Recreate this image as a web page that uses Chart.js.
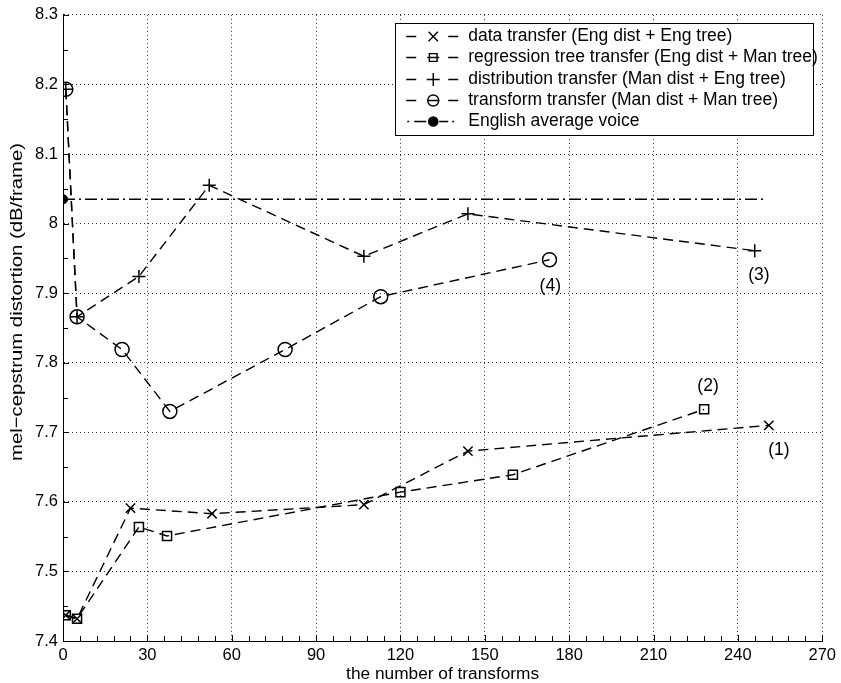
<!DOCTYPE html>
<html>
<head>
<meta charset="utf-8">
<script src="https://cdn.jsdelivr.net/npm/chart.js@4.4.0/dist/chart.umd.min.js"></script>
<style>
  html, body { margin: 0; padding: 0; background: #fff; }
  canvas { display: block; }
</style>
</head>
<body>
<canvas id="chart" width="841" height="683"></canvas>
<script>
// values
const dataX = [1, 5, 24, 53, 107, 144, 251];
const dataY = [7.437, 7.432, 7.591, 7.583, 7.596, 7.673, 7.710];

const regX = [1, 5, 27, 37, 120, 160, 228];
const regY = [7.437, 7.432, 7.564, 7.551, 7.614, 7.639, 7.733];

const distX = [1, 5, 27, 52, 107, 144, 246];
const distY = [8.193, 7.866, 7.924, 8.055, 7.953, 8.014, 7.961];

const transX = [1, 5, 21, 38, 79, 113, 173];
const transY = [8.193, 7.866, 7.819, 7.730, 7.819, 7.895, 7.948];

const avgX = [0, 250];
const avgY = [8.035, 8.035];

const seriesNames = [
  'data transfer (Eng dist + Eng tree)',
  'regression tree transfer (Eng dist + Man tree)',
  'distribution transfer (Man dist + Eng tree)',
  'transform transfer (Man dist + Man tree)',
  'English average voice'
];

const noteText = ['(1)', '(2)', '(3)', '(4)'];
const noteX = [254.6, 229.4, 247.5, 173.3];
const noteY = [7.675, 7.767, 7.926, 7.910];

const xTickLabels = [0, 30, 60, 90, 120, 150, 180, 210, 240, 270];
const yTickLabels = [7.4, 7.5, 7.6, 7.7, 7.8, 7.9, 8.0, 8.1, 8.2, 8.3];

const xTitle = 'the number of transforms';
const yTitle = 'mel\u2212cepstrum distortion (dB/frame)';

const FONT = '"Liberation Sans", Arial, Helvetica, sans-serif';
Chart.defaults.font.family = FONT;
Chart.defaults.color = '#000';

const isMajorX = v => xTickLabels.some(t => Math.abs(t - v) < 1e-6);
const isMajorY = v => yTickLabels.some(t => Math.abs(t - v) < 1e-6);

// minor ticks: 5 per major step on x, 2 per major step on y
const subdivide = (majors, n) => {
  const out = [];
  majors.forEach((m, i) => {
    out.push(m);
    if (i < majors.length - 1) {
      const step = (majors[i + 1] - m) / n;
      for (let k = 1; k < n; k++) out.push(m + k * step);
    }
  });
  return out;
};
const xTickValues = subdivide(xTickLabels, 5);
const yTickValues = subdivide(yTickLabels, 2);

const pts = (xs, ys) => xs.map((x, i) => ({ x, y: ys[i] }));

const markers = [
  { pointStyle: 'crossRot', radius: 6.6 },
  { pointStyle: 'rect', radius: 6.4 },
  { pointStyle: 'cross', radius: 6.5 },
  { pointStyle: 'circle', radius: 7 },
  { pointStyle: 'circle', radius: 4.6 }
];

const LW = 1.4;
const DASH = [10, 6];
const DASHDOT = [12, 4, 2, 4];

const lineSet = (label, xs, ys, m) => ({
  label,
  data: pts(xs, ys),
  borderColor: '#000',
  borderWidth: LW,
  borderDash: DASH,
  pointStyle: m.pointStyle,
  pointRadius: m.radius,
  pointBorderColor: '#000',
  pointBackgroundColor: 'rgba(0,0,0,0)',
  pointBorderWidth: 1.5,
  tension: 0
});

// inward tick marks on the left and bottom axes
const tickMarks = {
  id: 'tickMarks',
  afterDatasetsDraw(chart) {
    const { ctx, chartArea, scales: { x, y } } = chart;
    ctx.save();
    ctx.strokeStyle = '#000';
    ctx.lineWidth = 1;
    ctx.beginPath();
    x.ticks.forEach(t => {
      const px = Math.round(x.getPixelForValue(t.value)) + 0.5;
      ctx.moveTo(px, chartArea.bottom);
      ctx.lineTo(px, chartArea.bottom - (isMajorX(t.value) ? 6 : 5));
    });
    y.ticks.forEach(t => {
      const py = Math.round(y.getPixelForValue(t.value)) + 0.5;
      ctx.moveTo(chartArea.left, py);
      ctx.lineTo(chartArea.left + (isMajorY(t.value) ? 6 : 5), py);
    });
    ctx.stroke();
    ctx.restore();
  }
};

// (1)..(4) labels next to the curve ends
const notes = {
  id: 'notes',
  afterDatasetsDraw(chart) {
    const { ctx, scales: { x, y } } = chart;
    ctx.save();
    ctx.font = '17.5px ' + FONT;
    ctx.fillStyle = '#000';
    ctx.textAlign = 'center';
    ctx.textBaseline = 'middle';
    noteText.forEach((t, i) => {
      ctx.fillText(t, x.getPixelForValue(noteX[i]), y.getPixelForValue(noteY[i]));
    });
    ctx.restore();
  }
};

// y title: the rotated matlab text comes out stretched along its length
const yTitleDraw = {
  id: 'yTitleDraw',
  afterDraw(chart) {
    const { ctx } = chart;
    ctx.save();
    ctx.font = '17px ' + FONT;
    ctx.fillStyle = '#000';
    const w = ctx.measureText(yTitle).width;
    ctx.translate(17, 302);
    ctx.rotate(-Math.PI / 2);
    ctx.scale(318 / w, 1);
    ctx.textAlign = 'center';
    ctx.textBaseline = 'middle';
    ctx.fillText(yTitle, 0, 0);
    ctx.restore();
  }
};

// matlab style legend box, top right
const legendBox = {
  id: 'legendBox',
  afterDraw(chart) {
    const { ctx, chartArea } = chart;
    const left = chartArea.right - 427, top = chartArea.top + 8;
    const w = 418, h = 112, rowH = 21.3;
    ctx.save();
    ctx.fillStyle = '#fff';
    ctx.fillRect(left, top, w, h);
    ctx.strokeStyle = '#000';
    ctx.lineWidth = 1;
    ctx.strokeRect(Math.round(left) + 0.5, Math.round(top) + 0.5, w, h);

    ctx.font = '17.5px ' + FONT;
    ctx.textBaseline = 'middle';
    ctx.textAlign = 'left';
    seriesNames.forEach((name, i) => {
      const cy = Math.round(top + 13 + i * rowH) + 0.5;
      const mx = left + 38;
      ctx.strokeStyle = '#000';
      ctx.lineWidth = LW;
      ctx.beginPath();
      if (i < 4) {
        ctx.moveTo(left + 11, cy); ctx.lineTo(left + 21, cy);
        ctx.moveTo(left + 53, cy); ctx.lineTo(left + 63, cy);
        if (i === 1 || i === 3) { ctx.moveTo(mx - 6, cy); ctx.lineTo(mx + 6, cy); }
      } else {
        ctx.moveTo(left + 12, cy); ctx.lineTo(left + 14, cy);
        ctx.moveTo(left + 19, cy); ctx.lineTo(left + 31, cy);
        ctx.moveTo(left + 44, cy); ctx.lineTo(left + 53, cy);
        ctx.moveTo(left + 57, cy); ctx.lineTo(left + 59, cy);
      }
      ctx.stroke();
      const m = markers[i];
      ctx.fillStyle = i === 4 ? '#000' : 'rgba(0,0,0,0)';
      ctx.lineWidth = 1.4;
      Chart.helpers.drawPoint(ctx, {
        pointStyle: m.pointStyle,
        radius: (i === 1 || i === 3) ? 5.5 : m.radius,
        rotation: 0,
        borderWidth: 1.4
      }, mx, cy);
      ctx.fillStyle = '#000';
      ctx.fillText(name, left + 73, cy);
    });
    ctx.restore();
  }
};

new Chart(document.getElementById('chart'), {
  type: 'line',
  data: {
    datasets: [
      lineSet(seriesNames[0], dataX, dataY, markers[0]),
      lineSet(seriesNames[1], regX, regY, markers[1]),
      lineSet(seriesNames[2], distX, distY, markers[2]),
      lineSet(seriesNames[3], transX, transY, markers[3]),
      {
        label: seriesNames[4],
        data: pts(avgX, avgY),
        borderColor: '#000',
        borderWidth: LW,
        borderDash: DASHDOT,
        pointStyle: 'circle',
        pointRadius: [markers[4].radius, 0],
        pointBorderColor: '#000',
        pointBackgroundColor: '#000',
        pointBorderWidth: 1,
        tension: 0
      }
    ]
  },
  options: {
    responsive: false,
    animation: false,
    devicePixelRatio: 1,
    layout: { padding: { left: 0, top: 14, right: 15, bottom: 0 } },
    plugins: {
      legend: { display: false },
      tooltip: { enabled: false }
    },
    scales: {
      x: {
        type: 'linear',
        min: 0,
        max: 270,
        afterBuildTicks: s => { s.ticks = xTickValues.map(v => ({ value: v })); },
        afterFit: s => { s.height = 42; },
        grid: {
          drawTicks: false,
          color: c => (c.tick && isMajorX(c.tick.value)) ? '#333' : 'rgba(0,0,0,0)',
          lineWidth: 1
        },
        border: { display: true, color: '#000', width: 1, dash: [1, 3] },
        ticks: {
          autoSkip: false,
          maxRotation: 0,
          padding: 5,
          font: { size: 16.5 },
          color: '#000',
          callback: v => isMajorX(v) ? String(Math.round(v)) : ''
        },
        title: {
          display: true,
          text: xTitle,
          font: { size: 17.3, lineHeight: 1 },
          padding: { top: 0, bottom: 0 },
          color: '#000'
        }
      },
      y: {
        type: 'linear',
        min: 7.4,
        max: 8.3,
        afterBuildTicks: s => { s.ticks = yTickValues.map(v => ({ value: v })); },
        afterFit: s => { s.width = 63; },
        grid: {
          drawTicks: false,
          color: c => (c.tick && isMajorY(c.tick.value)) ? '#333' : 'rgba(0,0,0,0)',
          lineWidth: 1
        },
        border: { display: true, color: '#000', width: 1, dash: [1, 3] },
        ticks: {
          autoSkip: false,
          padding: 5,
          font: { size: 16.5 },
          color: '#000',
          callback: v => isMajorY(v) ? String(+v.toFixed(1)) : ''
        },
        title: { display: false }
      }
    }
  },
  plugins: [tickMarks, notes, yTitleDraw, legendBox]
});
</script>
</body>
</html>
